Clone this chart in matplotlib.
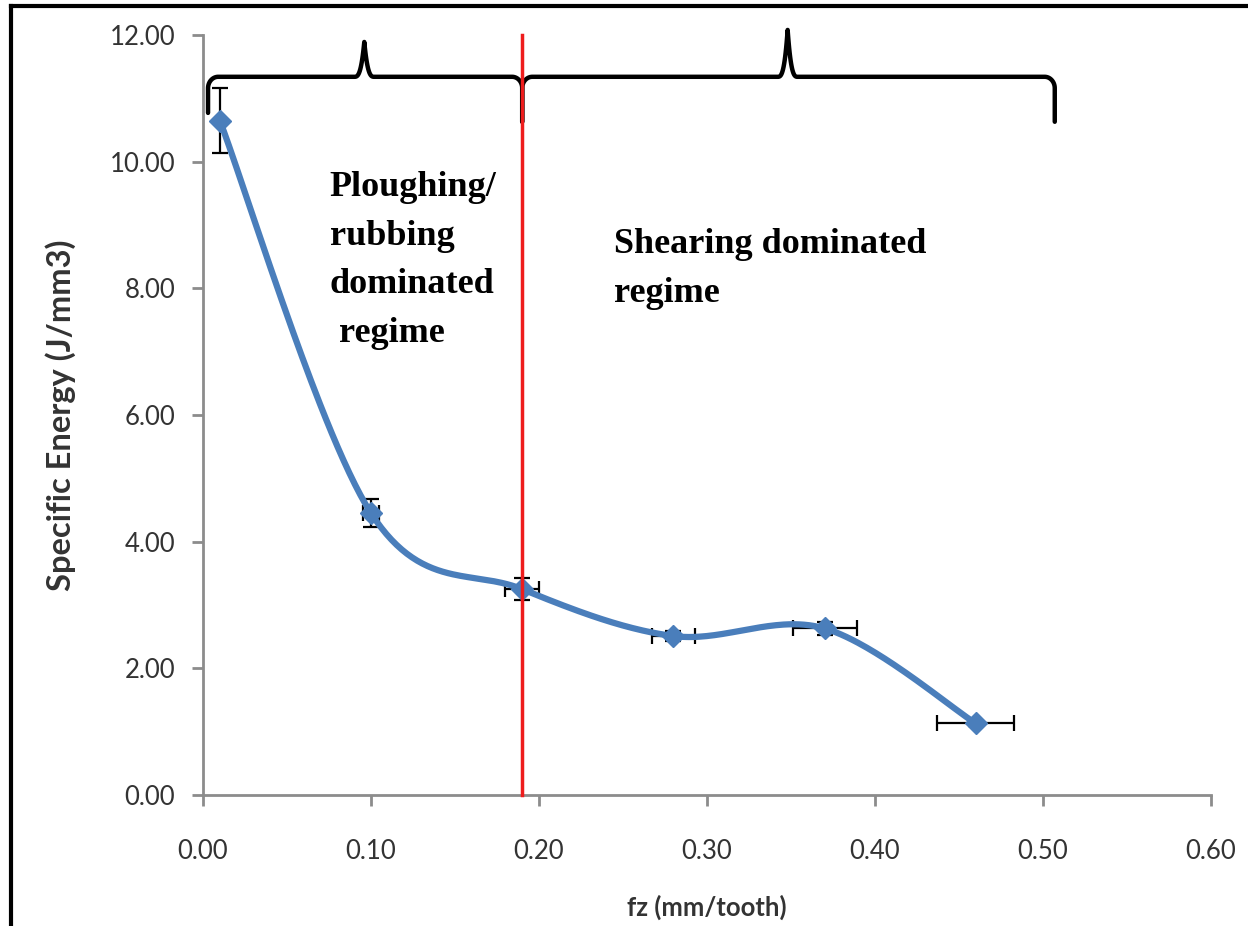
import numpy as np
import matplotlib
matplotlib.use("Agg")
import matplotlib.pyplot as plt
from matplotlib.lines import Line2D

# feed per tooth vs specific energy
fz = [0.01, 0.10, 0.19, 0.28, 0.37, 0.46]
energy = [10.65, 4.45, 3.25, 2.51, 2.63, 1.13]
energy_err = [0.52, 0.22, 0.17, 0.08, 0.10, 0.04]
fz_err = [0.0, 0.005, 0.010, 0.013, 0.019, 0.023]

x_ticks = [0.0, 0.1, 0.2, 0.3, 0.4, 0.5, 0.6]
y_ticks = [0, 2, 4, 6, 8, 10, 12]
regime_split = 0.19

BLUE = "#4a7ebb"
AXIS_GREY = "#8c8c8c"
TICK_FONT = "Lato"


def smooth_curve(x, y, n=60):
    """Excel-like smoothed line (Catmull-Rom as cubic Bezier)"""
    pts = np.column_stack([x, y]).astype(float)
    ext = np.vstack([pts[0], pts, pts[-1]])
    out = []
    t = np.linspace(0, 1, n)[:, None]
    for i in range(1, len(ext) - 2):
        p0, p1, p2, p3 = ext[i - 1], ext[i], ext[i + 1], ext[i + 2]
        c1 = p1 + (p2 - p0) / 6.0
        c2 = p2 - (p3 - p1) / 6.0
        seg = ((1 - t) ** 3) * p1 + 3 * ((1 - t) ** 2) * t * c1 \
            + 3 * (1 - t) * t ** 2 * c2 + t ** 3 * p2
        out.append(seg)
    out = np.vstack(out)
    return out[:, 0], out[:, 1]


def brace(ax, x0, x1, xm, y_line, y_end0, y_end1, y_peak):
    """Curly brace drawn on top of the plot"""
    rx, ry = 0.006, 0.18
    # left corner
    th = np.linspace(np.pi, np.pi / 2, 20)
    lx = x0 + rx + rx * np.cos(th)
    ly = y_line - ry + ry * np.sin(th)
    xs = [x0, *lx]
    ys = [y_end0, *ly]
    # cusp up in the middle
    w = 0.006
    d = np.linspace(-w, w, 41)
    xs += list(xm + d)
    ys += list(y_line + (y_peak - y_line) * (1 - np.abs(d) / w) ** 3)
    # right corner
    th = np.linspace(np.pi / 2, 0, 20)
    xs += list(x1 - rx + rx * np.cos(th))
    ys += list(y_line - ry + ry * np.sin(th))
    xs.append(x1)
    ys.append(y_end1)
    ax.plot(xs, ys, color="black", lw=3.2, solid_capstyle="round",
            solid_joinstyle="round", clip_on=False, zorder=4)


fig = plt.figure(figsize=(12.48, 9.26), dpi=100)
ax = fig.add_axes([203 / 1248, 1 - 795 / 926, (1211 - 203) / 1248, (795 - 35) / 926])

sx, sy = smooth_curve(fz, energy)
ax.plot(sx, sy, color=BLUE, lw=4.5, zorder=3, solid_capstyle="round")
ax.errorbar(fz, energy, yerr=energy_err, xerr=fz_err, fmt="none",
            ecolor="black", elinewidth=1.6, capsize=6, capthick=1.6, zorder=2)
ax.plot(fz, energy, linestyle="none", marker="D", markersize=11,
        color=BLUE, zorder=3)

ax.plot([regime_split, regime_split], [0, 12], color="#ee1c1c", lw=2.5,
        zorder=5, clip_on=False)

brace(ax, 0.003, regime_split, 0.096, 11.34, 10.77, 10.63, 11.89)
brace(ax, regime_split, 0.507, 0.348, 11.34, 10.63, 10.63, 12.08)

serif = dict(family="Liberation Serif", fontweight="bold", fontsize=26,
             color="black", linespacing=1.62, va="top", ha="left")
ax.text(0.0755, 9.85, "Ploughing/\nrubbing\ndominated\n regime",
        transform=ax.transData, **serif)
ax.text(0.2445, 8.95, "Shearing dominated\nregime",
        transform=ax.transData, **serif)

ax.set_xlim(0, 0.6)
ax.set_ylim(0, 12)
ax.set_xticks(x_ticks)
ax.set_yticks(y_ticks)
ax.set_xticklabels([f"{v:.2f}" for v in x_ticks], fontfamily=TICK_FONT,
                   fontsize=18.5, color="#333333")
ax.set_yticklabels([f"{v:.2f}" for v in y_ticks], fontfamily=TICK_FONT,
                   fontsize=18.5, color="#333333")
for s in ("top", "right"):
    ax.spines[s].set_visible(False)
for s in ("left", "bottom"):
    ax.spines[s].set_color(AXIS_GREY)
    ax.spines[s].set_linewidth(2.0)
ax.tick_params(axis="both", direction="out", length=8, width=2.0,
               color=AXIS_GREY)
ax.tick_params(axis="x", pad=24)
ax.tick_params(axis="y", pad=12)

ax.set_xlabel("fz (mm/tooth)", fontfamily=TICK_FONT, fontweight="bold",
              fontsize=18.5, color="#333333", labelpad=22)
ax.set_ylabel("Specific Energy (J/mm3)", fontfamily=TICK_FONT,
              fontweight="bold", fontsize=23.5, color="#333333", labelpad=24)

# border of the original picture (left and top edges)
fig.add_artist(Line2D([11 / 1248, 11 / 1248], [0, 1 - 6 / 926],
                      transform=fig.transFigure, color="black", lw=3))
fig.add_artist(Line2D([11 / 1248, 1], [1 - 6 / 926, 1 - 6 / 926],
                      transform=fig.transFigure, color="black", lw=3))

fig.savefig("out.png", dpi=100)
